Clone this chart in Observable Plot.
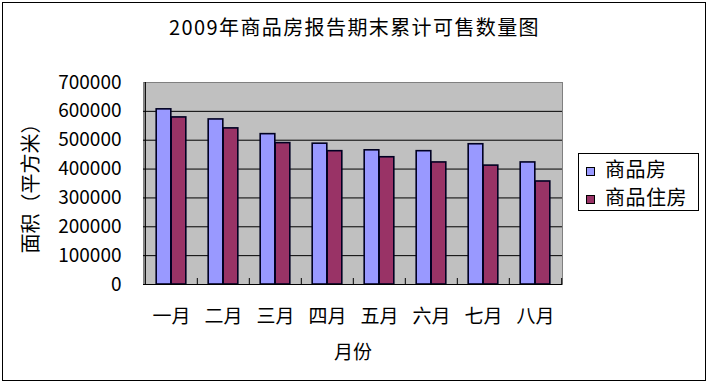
<!DOCTYPE html>
<html>
<head>
<meta charset="utf-8">
<script src="https://cdn.jsdelivr.net/npm/d3@7"></script>
<script src="https://cdn.jsdelivr.net/npm/@observablehq/plot@0.6"></script>
<style>
  html, body { margin: 0; padding: 0; background: #fff; }
  #wrap { position: relative; width: 709px; height: 384px; overflow: hidden; font-family: "Noto Sans CJK SC", sans-serif; color: #000; }
  #wrap svg { position: absolute; left: 0; top: 0; }
  #border { position: absolute; left: 2px; top: 2px; width: 702px; height: 377px; border: 1px solid #000; box-sizing: content-box; }
  #title { position: absolute; left: 0; width: 709px; top: 14px; text-align: center; font-size: 20px; letter-spacing: 1.4px; line-height: 26px; }
  #legend { position: absolute; left: 578px; top: 153px; width: 119px; height: 56px; border: 1px solid #000; background: #fff; }
  .item { position: absolute; left: 7px; height: 26px; line-height: 26px; font-size: 20px; letter-spacing: 0.5px; white-space: nowrap; }
  .sw { display: inline-block; width: 7px; height: 7px; border: 1.5px solid #000; margin-right: 10px; vertical-align: 1px; }
</style>
</head>
<body>
<div id="wrap">
  <div id="border"></div>
  <div id="title"></div>
  <div id="legend"></div>
</div>
<script>
const titleText = "2009年商品房报告期末累计可售数量图";
const months = ["一月", "二月", "三月", "四月", "五月", "六月", "七月", "八月"];
const seriesNames = ["商品房", "商品住房"];
const seriesColors = ["#9999FF", "#993366"];
const commercial = [607000, 572000, 521000, 488000, 465000, 462000, 486000, 423000];
const residential = [579000, 541000, 490000, 462000, 441000, 423000, 412000, 357000];
const yTicks = [0, 100000, 200000, 300000, 400000, 500000, 600000, 700000];
const yLabel = "面积（平方米）";
const xLabel = "月份";

const W = 709, H = 384, ML = 143, MR = 147, MT = 82, MB = 100;
const bw = (W - ML - MR) / months.length;
const barW = 15;

const rowsA = months.map((m, i) => ({month: m, series: seriesNames[0], value: commercial[i]}));
const rowsB = months.map((m, i) => ({month: m, series: seriesNames[1], value: residential[i]}));

const chart = Plot.plot({
  width: W, height: H,
  marginLeft: ML, marginRight: MR, marginTop: MT, marginBottom: MB,
  style: {fontFamily: "'Noto Sans CJK SC', sans-serif", background: "transparent", color: "#000", overflow: "visible"},
  x: {domain: months, padding: 0},
  y: {domain: [0, 700000]},
  marks: [
    Plot.frame({fill: "#C0C0C0", stroke: "#808080"}),
    Plot.ruleY(yTicks.filter(d => d > 0 && d < 700000), {stroke: "#000", strokeWidth: 1}),
    Plot.barY(rowsA, {x: "month", y: "value", fill: seriesColors[0], stroke: "#000022", strokeWidth: 1.6, insetLeft: bw / 2 - barW, insetRight: bw / 2}),
    Plot.barY(rowsB, {x: "month", y: "value", fill: seriesColors[1], stroke: "#000022", strokeWidth: 1.6, insetLeft: bw / 2, insetRight: bw / 2 - barW}),
    Plot.ruleY([0], {stroke: "#000", strokeWidth: 1.2}),
    Plot.ruleX([months[0]], {dx: -bw / 2, stroke: "#000", strokeWidth: 1.2}),
    Plot.ruleX(months.slice(1), {dx: -bw / 2, y1: 0, y2: 0, insetTop: -6, stroke: "#000"}),
    Plot.ruleX([months[months.length - 1]], {dx: bw / 2, y1: 0, y2: 0, insetTop: -6, stroke: "#000"}),
    Plot.axisY({ticks: yTicks, tickSize: 0, tickPadding: 22, tickFormat: d => String(d), fontSize: 19, label: null}),
    Plot.axisY({ticks: [], tickSize: 0, fontSize: 20,
      label: yLabel, labelAnchor: "center", labelOffset: 120, labelArrow: "none"}),
    Plot.axisX({tickSize: 0, tickPadding: 25, fontSize: 19, label: xLabel, labelAnchor: "center", labelOffset: 74, labelArrow: "none"})
  ]
});

const wrap = document.getElementById("wrap");
wrap.insertBefore(chart, document.getElementById("title"));
document.getElementById("title").textContent = titleText;

const legend = document.getElementById("legend");
seriesNames.forEach((name, i) => {
  const it = document.createElement("div");
  it.className = "item";
  it.style.top = (i === 0 ? 2 : 30) + "px";
  const sw = document.createElement("span");
  sw.className = "sw";
  sw.style.background = seriesColors[i];
  it.appendChild(sw);
  it.appendChild(document.createTextNode(name));
  legend.appendChild(it);
});
</script>
</body>
</html>
